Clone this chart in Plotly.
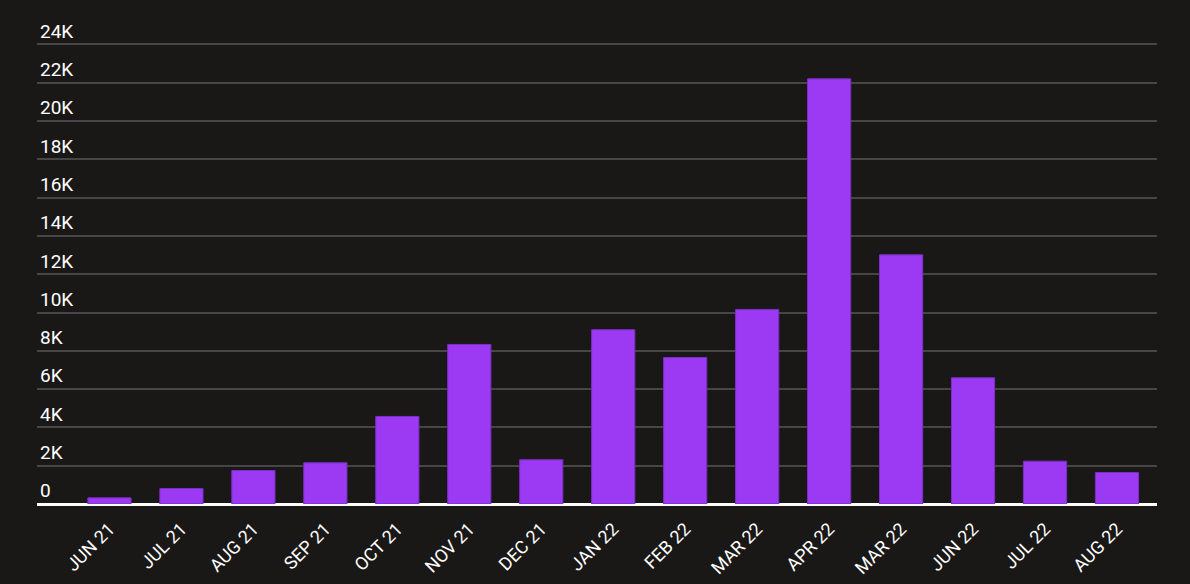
import plotly.graph_objects as go

months = ["JUN 21", "JUL 21", "AUG 21", "SEP 21", "OCT 21", "NOV 21", "DEC 21",
          "JAN 22", "FEB 22", "MAR 22", "APR 22", "MAR 22", "JUN 22", "JUL 22", "AUG 22"]
values = [320, 810, 1750, 2150, 4570, 8330, 2310, 9100, 7650, 10160, 22200, 13010, 6590, 2235, 1645]
y_ticks = [0, 2000, 4000, 6000, 8000, 10000, 12000, 14000, 16000, 18000, 20000, 22000, 24000]
y_tick_labels = ["0", "2K", "4K", "6K", "8K", "10K", "12K", "14K", "16K", "18K", "20K", "22K", "24K"]

positions = list(range(len(months)))

bg = "#1a1817"

fig = go.Figure(go.Bar(
    x=positions,
    y=values,
    marker=dict(color="#9b3af2", line=dict(color="#7b2ec6", width=1)),
    width=0.6,
    hoverinfo="y",
))

fig.update_layout(
    width=1190,
    height=584,
    paper_bgcolor=bg,
    plot_bgcolor=bg,
    margin=dict(l=37, r=33, t=15, b=80),
    font=dict(family="Roboto", color="#ffffff"),
    showlegend=False,
    xaxis=dict(
        tickmode="array",
        tickvals=positions,
        ticktext=months,
        tickangle=-45,
        tickfont=dict(size=18, color="#ffffff"),
        ticklabelstandoff=10,
        automargin=False,
        range=[-1.007, 14.556],
        showgrid=False,
        zeroline=False,
        showline=False,
        ticks="",
        fixedrange=True,
    ),
    yaxis=dict(
        tickmode="array",
        tickvals=y_ticks,
        ticktext=y_tick_labels,
        range=[0, 25535],
        ticklabelposition="inside top",
        automargin=False,
        tickfont=dict(size=19, color="#ffffff"),
        showgrid=True,
        gridcolor="#474545",
        gridwidth=2,
        zeroline=True,
        zerolinecolor="#ffffff",
        zerolinewidth=3,
        showline=False,
        ticks="",
        fixedrange=True,
    ),
)

fig.write_html(
    "out.html",
    config={"displayModeBar": False},
    post_script="document.body.style.margin='0';document.body.style.background='#1a1817';",
)
